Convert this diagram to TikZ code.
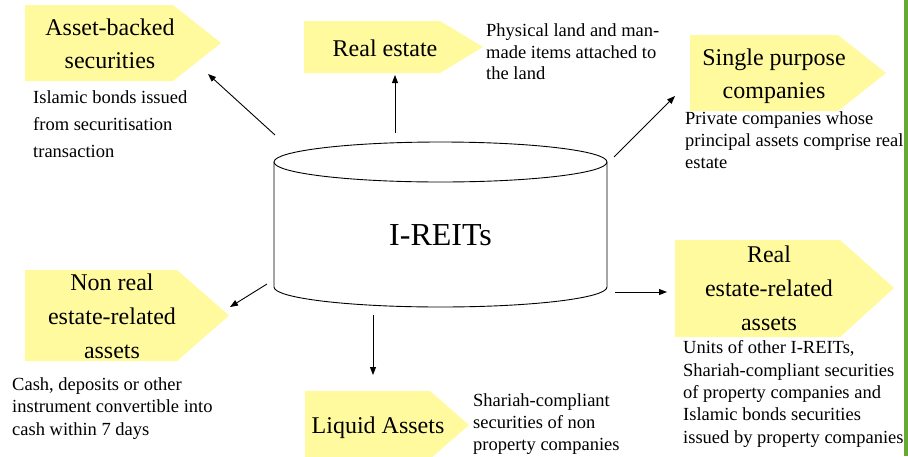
\documentclass[tikz,border=0pt]{standalone}
\usepackage{fontspec}
\setmainfont{Liberation Serif}
\usetikzlibrary{arrows.meta}
\definecolor{penta}{HTML}{FFFA9E}
\definecolor{barg}{HTML}{66AA33}
\tikzset{
  pentafill/.style={fill=penta, draw=none},
  headtxt/.style={anchor=north, align=center, inner sep=0pt, font=\fontsize{24}{33}\selectfont},
  desctxt/.style={anchor=north west, align=left, inner sep=0pt},
  conn/.style={line width=0.9pt, -{Triangle[length=8pt,width=6pt]}},
}
\begin{document}
\begin{tikzpicture}[x=1pt,y=-1pt]
\useasboundingbox (0,0) rectangle (908,456);
\fill[white] (0,0) rectangle (908,456);
\fill[barg] (904,0) rectangle (908,456);

% pentagon shapes
\fill[pentafill] (25,5) -- (173,5) -- (221,43) -- (173,81) -- (25,81) -- cycle;
\fill[pentafill] (304,21) -- (440,21) -- (483,47) -- (440,73) -- (304,73) -- cycle;
\fill[pentafill] (690,35) -- (838,35) -- (886,73) -- (838,111) -- (690,111) -- cycle;
\fill[pentafill] (25,270) -- (177,270) -- (229,315.5) -- (177,361) -- (25,361) -- cycle;
\fill[pentafill] (305,391) -- (430,391) -- (469,425) -- (430,459) -- (305,459) -- cycle;
\fill[pentafill] (675,240) -- (840,240) -- (894,288) -- (840,337) -- (675,337) -- cycle;

% headings
\node[headtxt] (abs) at (110,18.7) {Asset-backed\\securities};
\node[headtxt] (re) at (385,39.7) {Real estate};
\node[headtxt] (spc) at (774,48.7) {Single purpose\\companies};
\node[headtxt, font=\fontsize{24}{34}\selectfont] (nre) at (112,273.7) {Non real\\estate-related\\assets};
\node[headtxt] (liq) at (378,416.7) {Liquid Assets};
\node[headtxt, font=\fontsize{24}{34}\selectfont] (rera) at (769,245.7) {Real\\estate-related\\assets};

% descriptions
\node[desctxt, font=\fontsize{18.5}{26.7}\selectfont] (dabs) at (33,90.7) {Islamic bonds issued\\from securitisation\\transaction};
\node[desctxt, font=\fontsize{18.5}{21.7}\selectfont] (dre) at (486,23.4) {Physical land and man-\\made items attached to\\the land};
\node[desctxt, font=\fontsize{18.5}{22}\selectfont] (dspc) at (685,111.4) {Private companies whose\\principal assets comprise real\\estate};
\node[desctxt, font=\fontsize{18.5}{22.5}\selectfont] (dnre) at (12,377.4) {Cash, deposits or other\\instrument convertible into\\cash within 7 days};
\node[desctxt, font=\fontsize{18.5}{22}\selectfont] (dliq) at (473,393.4) {Shariah-compliant\\securities of non\\property companies};
\node[desctxt, font=\fontsize{18.5}{22.3}\selectfont] (drera) at (683,340.7) {Units of other I-REITs,\\Shariah-compliant securities\\of property companies and\\Islamic bonds securities\\issued by property companies};

% cylinder
\fill[white] (274,162) -- (274,287) arc[start angle=180, end angle=360, x radius=166.5, y radius=-20] -- (607,162) -- cycle;
\draw[line width=0.9pt] (274,162) -- (274,287) arc[start angle=180, end angle=360, x radius=166.5, y radius=-20] -- (607,162);
\draw[line width=0.9pt, fill=white] (440.5,162) ellipse[x radius=166.5, y radius=20];
\node[inner sep=0pt, font=\fontsize{32}{38}\selectfont] (ireits) at (440.5,235) {I-REITs};

% connector end points
\coordinate (t1) at (275,135); \coordinate (h1) at (208,74);
\coordinate (t2) at (395,133); \coordinate (h2) at (395,75);
\coordinate (t3) at (614,157); \coordinate (h3) at (675,96);
\coordinate (t4) at (267,284); \coordinate (h4) at (230,307);
\coordinate (t5) at (373,315); \coordinate (h5) at (373,375);
\coordinate (t6) at (615,292); \coordinate (h6) at (667,292);

\draw[conn] (t1) -- (h1);
\draw[conn] (t2) -- (h2);
\draw[conn] (t3) -- (h3);
\draw[conn] (t4) -- (h4);
\draw[conn] (t5) -- (h5);
\draw[conn] (t6) -- (h6);
\end{tikzpicture}
\end{document}
